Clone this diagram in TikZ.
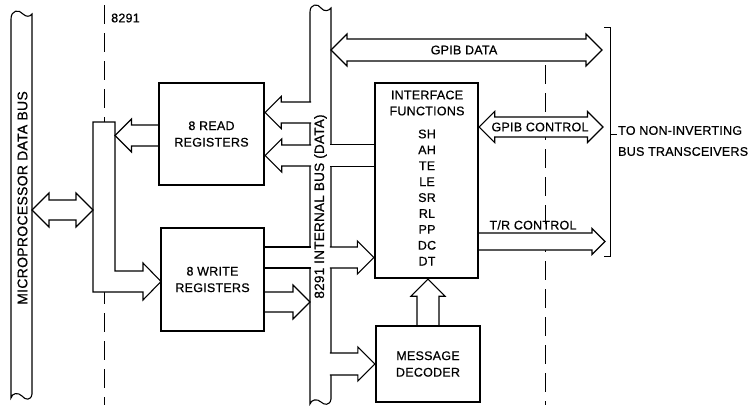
\documentclass[tikz,border=0pt]{standalone}
\usepackage{fontspec}
\setmainfont{Liberation Sans}[FakeBold=0.6, LetterSpace=2]
\usetikzlibrary{calc}

% hollow bus arrows: tail, tip, shaft half width, head size
\newcommand{\busarrR}[4]{%
	\filldraw[busline] let \p1=(#1), \p2=(#2) in
		(\x1,\y2+#3) -- (\x2-#4,\y2+#3) -- (\x2-#4,\y2+#4) -- (\x2,\y2)
		-- (\x2-#4,\y2-#4) -- (\x2-#4,\y2-#3) -- (\x1,\y2-#3);}
\newcommand{\busarrL}[4]{%
	\filldraw[busline] let \p1=(#1), \p2=(#2) in
		(\x1,\y2+#3) -- (\x2+#4,\y2+#3) -- (\x2+#4,\y2+#4) -- (\x2,\y2)
		-- (\x2+#4,\y2-#4) -- (\x2+#4,\y2-#3) -- (\x1,\y2-#3);}
\newcommand{\busarrU}[4]{%
	\filldraw[busline] let \p1=(#1), \p2=(#2) in
		(\x1+#3,\y1) -- (\x1+#3,\y2-#4) -- (\x1+#4,\y2-#4) -- (\x1,\y2)
		-- (\x1-#4,\y2-#4) -- (\x1-#3,\y2-#4) -- (\x1-#3,\y1);}
\newcommand{\busarrLR}[4]{%
	\filldraw[busline] let \p1=(#1), \p2=(#2) in
		(\x1,\y1) -- (\x1+#4,\y1+#4) -- (\x1+#4,\y1+#3) -- (\x2-#4,\y1+#3) -- (\x2-#4,\y1+#4)
		-- (\x2,\y1) -- (\x2-#4,\y1-#4) -- (\x2-#4,\y1-#3) -- (\x1+#4,\y1-#3) -- (\x1+#4,\y1-#4) -- cycle;}
% plain band: tail (gives y), end, half width
\newcommand{\busband}[3]{%
	\fill[white] let \p1=(#1), \p2=(#2) in (\x1,\y1-#3) rectangle (\x2,\y1+#3);
	\draw[line width=1.1pt] let \p1=(#1), \p2=(#2) in (\x1,\y1+#3) -- (\x2,\y1+#3) (\x1,\y1-#3) -- (\x2,\y1-#3);}

\begin{document}
\begin{tikzpicture}[x=1pt, y=-1pt,
	busline/.style={draw=black, fill=white, line width=1.1pt},
	lbl/.style={font=\fontsize{12.5}{16}\selectfont, inner sep=0pt, align=center},
	regbox/.style={draw, line width=2.4pt, inner sep=0pt, align=center, font=\fontsize{12.5}{16.5}\selectfont}]
	\useasboundingbox (0,0) rectangle (748,408);

	% Ranh giới chip 8291
	\draw[line width=1pt, dash pattern=on 19pt off 9pt] (104,5) -- (104,405);
	\draw[line width=1pt, dash pattern=on 19pt off 9pt] (545,65) -- (545,405);
	\node[lbl, anchor=west] (chip) at (111,18) {8291};

	% Mép các bus
	\coordinate (mbR) at (32,0);
	\coordinate (dbL) at (93,0);
	\coordinate (dbR) at (115,0);
	\coordinate (ibL) at (310,0);
	\coordinate (ibR) at (331,0);

	% Bus dữ liệu vi xử lý
	\filldraw[busline] (11,19) .. controls (11,10) and (19,9) .. (23,14) .. controls (26,17) and (30,17) .. (32,14)
		-- (32,394) .. controls (31,401) and (25,400) .. (22,396) .. controls (18,392) and (12,393) .. (11,398) -- cycle;

	% Bus nội 8291
	\filldraw[busline] (310,12) .. controls (310,4) and (318,3) .. (321,8) .. controls (324,12) and (329,11) .. (331,8)
		-- (331,399) .. controls (330,406) and (324,405) .. (321,402) .. controls (317,398) and (311,400) .. (310,404) -- cycle;

	% Thanh phân phối
	\filldraw[busline] (93,122) -- (115,122) -- (115,271) -- (143,271) -- (143,263) -- (161,281.5)
		-- (143,300) -- (143,292) -- (93,292) -- cycle;

	% Các khối
	\node[regbox, minimum width=105pt, minimum height=102pt] (rdreg) at (211.5,134) {8 READ\\REGISTERS};
	\node[regbox, minimum width=103pt, minimum height=103pt] (wrreg) at (212.5,279.5) {8 WRITE\\REGISTERS};
	\node[regbox, minimum width=103pt, minimum height=195pt] (ifunc) at (426.5,180.5) {};
	\node[regbox, minimum width=104pt, minimum height=76pt] (msgdec) at (428,364) {MESSAGE\\DECODER};

	\node[lbl] (ftitle) at (427,103) {INTERFACE\\FUNCTIONS};
	\foreach \f [count=\i] in {SH,AH,TE,LE,SR,RL,PP,DC,DT}
		\node[lbl] (fn\i) at (427,118.1+15.9*\i) {\f};

	% Mũi tên bus phía vi xử lý
	\busarrLR{mbR |- 0,210}{dbL |- 0,210}{10pt}{17pt}
	\busarrL{rdreg.west |- 0,135.5}{dbR |- 0,135.5}{10.5pt}{16.5pt}

	% Mũi tên bus nội
	\busarrL{[xshift=1.2pt]ibL}{rdreg.east |- 0,112.5}{10.5pt}{16pt}
	\busarrL{[xshift=1.2pt]ibL}{rdreg.east |- 0,155.5}{10.5pt}{16.5pt}
	\busband{ifunc.west |- 0,155.5}{[xshift=-1.2pt]ibR}{11pt}
	\busband{wrreg.east |- 0,257.5}{[xshift=1.2pt]ibL}{10.5pt}
	\busarrR{[xshift=-1.2pt]ibR}{ifunc.west |- 0,257.5}{10.5pt}{16.5pt}
	\busarrR{wrreg.east}{ibL |- 0,302}{10pt}{17pt}
	\busarrR{[xshift=-1.2pt]ibR}{msgdec.west |- 0,364}{11pt}{17pt}
	\busarrU{msgdec.north}{ifunc.south}{11pt}{17pt}

	% Phía GPIB
	\coordinate (dataend) at (602,50);
	\coordinate (ctlend) at (603,127);
	\coordinate (trend) at (605,241.5);
	\busarrLR{ibR |- dataend}{dataend}{11pt}{16pt}
	\busarrLR{ifunc.east |- ctlend}{ctlend}{10pt}{15.5pt}
	\busarrR{ifunc.east}{trend}{8.5pt}{13pt}

	% Ngoặc tới bộ thu phát
	\coordinate (brtop) at (610,27);
	\coordinate (brbot) at (610,256);
	\node[lbl, anchor=west, align=left, font=\fontsize{12.5}{21}\selectfont] (xcvr) at (618,141) {TO NON-INVERTING\\BUS TRANSCEIVERS};
	\draw[line width=1pt] ([xshift=-6pt]brtop) -- (brtop) -- (brbot) -- ([xshift=-6pt]brbot);
	\draw[line width=1pt] (brtop |- 0,134) -- ([xshift=-1.5pt]xcvr.west |- 0,134);

	% Nhãn
	\node[lbl] (datalbl) at (464,50) {GPIB DATA};
	\node[lbl] (ctllbl) at (540,127) {GPIB CONTROL};
	\node[lbl] (trlbl) at (533,225) {T/R CONTROL};
	\node[lbl, rotate=90, font=\fontsize{14}{16}\selectfont] (mlbl) at (22.5,198) {MICROPROCESSOR DATA BUS};
	\node[lbl, rotate=90, font=\fontsize{13.5}{16}\selectfont] (ilbl) at (320.5,206.5) {8291 INTERNAL BUS (DATA)};
\end{tikzpicture}
\end{document}
